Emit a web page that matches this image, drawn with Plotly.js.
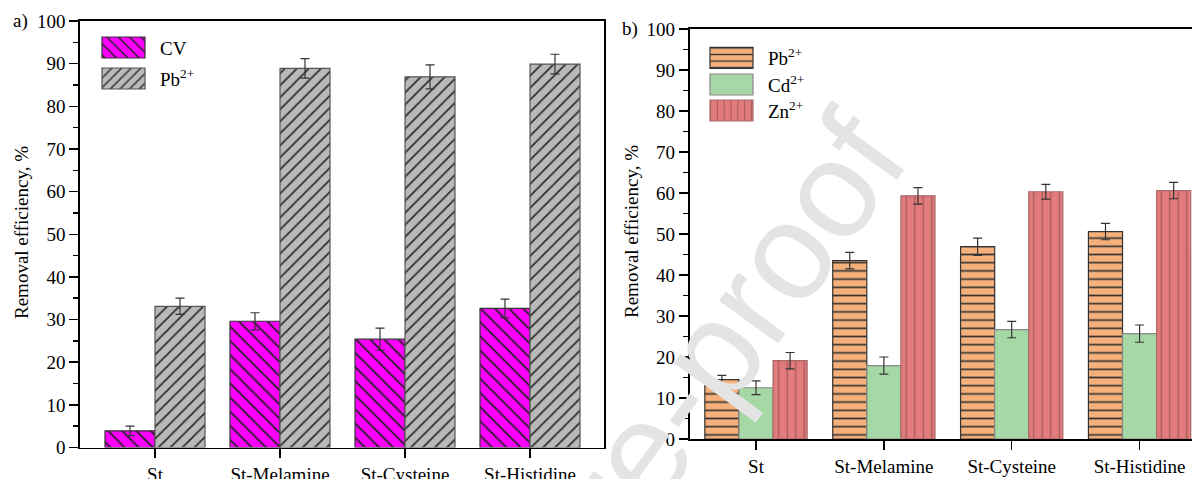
<!DOCTYPE html>
<html>
<head>
<meta charset="utf-8">
<script src="https://cdn.plot.ly/plotly-3.0.1.min.js"></script>
<style>
  html, body { margin: 0; padding: 0; background: #ffffff; }
  #chart { width: 1192px; height: 479px; }
</style>
</head>
<body>
<div id="chart"></div>
<script>
// ---------- data ----------
const categories = ['St', 'St-Melamine', 'St-Cysteine', 'St-Histidine'];

// panel a)
const cvRemoval = [3.9, 29.6, 25.4, 32.6];
const cvError   = [1.1, 2.0, 2.6, 2.2];
const pbRemovalA = [33.1, 88.9, 86.9, 89.9];
const pbErrorA   = [1.9, 2.3, 2.8, 2.3];

// panel b)
const pbRemovalB = [14.5, 43.5, 46.9, 50.6];
const pbErrorB   = [1.0, 2.0, 2.1, 2.0];
const cdRemoval  = [12.5, 17.9, 26.7, 25.7];
const cdError    = [1.7, 2.1, 2.0, 2.1];
const znRemoval  = [19.1, 59.3, 60.3, 60.6];
const znError    = [2.0, 2.0, 1.8, 2.0];

const yTicks = [0, 10, 20, 30, 40, 50, 60, 70, 80, 90, 100];
const yTitle = 'Removal efficiency, %';

// ---------- styling ----------
const W = 1192, H = 479;
const SERIF = 'Liberation Serif';
function tf(size) { return { family: SERIF, size: size || 19, color: '#000000' }; }

function errBar(arr) {
  return { type: 'data', array: arr, visible: true, color: '#333333', thickness: 1.2, width: 4.5 };
}
function barTrace(name, y, err, xa, ya, legend, color, lineColor, pattern) {
  return {
    type: 'bar', name: name, x: categories, y: y,
    xaxis: xa, yaxis: ya, legend: legend,
    error_y: errBar(err),
    marker: {
      color: color,
      line: { color: lineColor, width: 1.2 },
      pattern: pattern
    }
  };
}

const traces = [
  barTrace('CV', cvRemoval, cvError, 'x', 'y', 'legend', '#ff00ff', '#333333',
    { shape: '\\', size: 10, solidity: 0.18, fgcolor: '#222222', bgcolor: '#ff00ff', fillmode: 'replace' }),
  barTrace('Pb<sup>2+</sup>', pbRemovalA, pbErrorA, 'x', 'y', 'legend', '#b9b9b9', '#555555',
    { shape: '/', size: 8.5, solidity: 0.2, fgcolor: '#2a2a2a', bgcolor: '#b9b9b9', fillmode: 'replace' }),
  barTrace('Pb<sup>2+</sup>', pbRemovalB, pbErrorB, 'x2', 'y2', 'legend2', '#f5b07b', '#333333',
    { shape: '-', size: 8.2, solidity: 0.2, fgcolor: '#333333', bgcolor: '#f5b07b', fillmode: 'replace' }),
  barTrace('Cd<sup>2+</sup>', cdRemoval, cdError, 'x2', 'y2', 'legend2', '#a6d8a6', '#888888',
    { shape: '', size: 8, solidity: 0.2 }),
  barTrace('Zn<sup>2+</sup>', znRemoval, znError, 'x2', 'y2', 'legend2', '#e27b7b', '#a86a6a',
    { shape: '|', size: 8.5, solidity: 0.16, fgcolor: '#a85a5a', bgcolor: '#e27b7b', fillmode: 'replace' })
];

const px = v => v / W;
const py = v => 1 - v / H;

function yAxis(domainTop, domainBottom, anchor, mirror) {
  return {
    domain: [py(domainBottom), py(domainTop)], anchor: anchor,
    range: [0, 100], tickvals: yTicks, ticktext: yTicks.map(String),
    showline: true, linecolor: '#000', linewidth: 1.8, mirror: mirror,
    ticks: 'outside', ticklen: 9, tickwidth: 1.5, tickcolor: '#000',
    minor: { ticks: 'outside', ticklen: 5, tickwidth: 1.5, tickcolor: '#000', dtick: 5, tick0: 0, showgrid: false },
    showgrid: false, zeroline: false, tickfont: tf(19), fixedrange: true
  };
}
function xAxis(left, right, range, anchor) {
  return {
    domain: [px(left), px(right)], anchor: anchor, type: 'category',
    range: range,
    showline: true, linecolor: '#000', linewidth: 1.8, mirror: true,
    ticks: 'outside', ticklen: 9, tickwidth: 1.5, tickcolor: '#000',
    showgrid: false, zeroline: false, tickfont: tf(19), fixedrange: true
  };
}

const layout = {
  width: W, height: H,
  margin: { l: 0, r: 0, t: 0, b: 0 },
  paper_bgcolor: '#fff', plot_bgcolor: '#fff',
  font: tf(19),
  barmode: 'group', bargap: 0.2, bargroupgap: 0,
  showlegend: true,
  xaxis: xAxis(80, 604, [-0.6, 3.592], 'y'),
  yaxis: yAxis(21, 447.5, 'x', true),
  xaxis2: xAxis(689.5, 1192, [-0.52, 3.41], 'y2'),
  yaxis2: yAxis(29, 439, 'x2', false),
  legend: { x: px(98), y: py(34), xanchor: 'left', yanchor: 'top', bgcolor: 'rgba(0,0,0,0)', font: tf(19) },
  legend2: { x: px(706), y: py(44), xanchor: 'left', yanchor: 'top', bgcolor: 'rgba(0,0,0,0)', font: tf(19) },
  annotations: [
    { text: 'a)', xref: 'paper', yref: 'paper', x: px(11), y: py(21), xanchor: 'left', yanchor: 'middle', showarrow: false, font: tf(19) },
    { text: 'b)', xref: 'paper', yref: 'paper', x: px(620), y: py(29), xanchor: 'left', yanchor: 'middle', showarrow: false, font: tf(19) },
    { text: yTitle, xref: 'paper', yref: 'paper', x: px(21), y: py(233), xanchor: 'center', yanchor: 'middle', textangle: -90, showarrow: false, font: tf(19) },
    { text: yTitle, xref: 'paper', yref: 'paper', x: px(631), y: py(232), xanchor: 'center', yanchor: 'middle', textangle: -90, showarrow: false, font: tf(19) },
    { text: 'Journal Pre-proof', xref: 'paper', yref: 'paper', x: px(560), y: py(562), xanchor: 'center', yanchor: 'middle', textangle: -54, showarrow: false,
      font: { family: 'Liberation Sans', size: 138, color: '#e4e4e4' } }
  ]
};

// legend patch geometry (page px) - enlarge Plotly's small legend squares
const legendTargets = [
  { patchLeft: 102, textLeft: 160, centers: [47.5, 78.5] },
  { patchLeft: 710, textLeft: 768, centers: [57.8, 84.5, 110.5] }
];
const PATCH_W = 43, PATCH_H = 21;

function bestText(g) {
  let best = null, bw = 0;
  g.querySelectorAll('text').forEach(function (t) {
    const b = t.getBoundingClientRect();
    if (b.width > bw) { bw = b.width; best = { t: t, b: b }; }
  });
  return best;
}

function fixLegends() {
  const gd = document.getElementById('chart');
  gd.querySelectorAll('[clip-path]').forEach(function (el) {
    const cls = (el.getAttribute('class') || '');
    if (cls.indexOf('scrollbox') >= 0 || /legend/.test(cls)) el.removeAttribute('clip-path');
  });
  const info = [];
  gd.querySelectorAll('g.traces').forEach(function (g) {
    const bt = bestText(g);
    const pts = g.querySelectorAll('path');
    if (bt && pts.length) info.push({ g: g, b: bt.b });
  });
  const groups = [
    info.filter(o => o.b.left < 600).sort((a, b) => a.b.top - b.b.top),
    info.filter(o => o.b.left >= 600).sort((a, b) => a.b.top - b.b.top)
  ];
  groups.forEach(function (list, k) {
    const tg = legendTargets[k];
    list.forEach(function (o, i) {
      if (i >= tg.centers.length) return;
      try {
        const it = o.g;
        const tl = it.transform && it.transform.baseVal;
        const cons = tl && tl.numberOfItems ? tl.consolidate().matrix : { e: 0, f: 0 };
        const ctm = it.getScreenCTM();
        const newE = cons.e + (tg.textLeft - o.b.left);
        const newF = cons.f + (tg.centers[i] - ctm.f);
        it.setAttribute('transform', 'translate(' + newE + ',' + newF + ')');
        let pts = it.querySelectorAll('.legendpoints path');
        if (!pts.length) pts = it.querySelectorAll('path');
        pts.forEach(function (pt) {
          const pm = pt.getScreenCTM();
          const x0 = tg.patchLeft - pm.e, x1 = x0 + PATCH_W;
          const y0 = tg.centers[i] - PATCH_H / 2 - pm.f, y1 = y0 + PATCH_H;
          pt.setAttribute('d', 'M' + x0 + ',' + y0 + 'H' + x1 + 'V' + y1 + 'H' + x0 + 'Z');
        });
      } catch (e) { console.error('legend item fix failed: ' + e.message); }
    });
  });
}

const gdiv = document.getElementById('chart');
Plotly.newPlot(gdiv, traces, layout, { displayModeBar: false, staticPlot: true }).then(function () {
  fixLegends();
  requestAnimationFrame(fixLegends);
  setTimeout(fixLegends, 30);
  setTimeout(fixLegends, 200);
  setTimeout(fixLegends, 600);
});
gdiv.on && gdiv.on('plotly_afterplot', function () { setTimeout(fixLegends, 0); });
</script>
</body>
</html>
